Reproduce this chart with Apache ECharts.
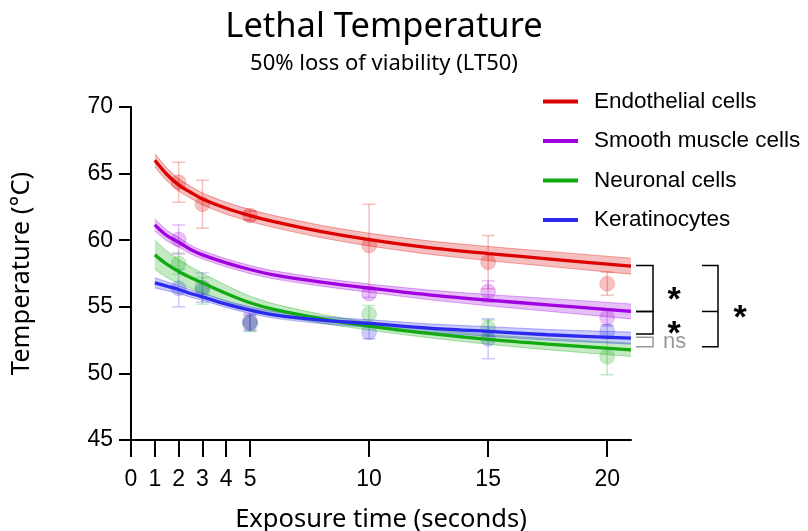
<!DOCTYPE html>
<html><head><meta charset="utf-8">
<script src="https://cdn.jsdelivr.net/npm/echarts@6/dist/echarts.min.js"></script>
<style>html,body{margin:0;padding:0;background:#fff}#c{width:808px;height:531px}</style>
</head><body><div id="c"></div>
<script>
// ---- data ----
const seriesNames = ['Endothelial cells', 'Smooth muscle cells', 'Neuronal cells', 'Keratinocytes'];
const xTicks = [0, 1, 2, 3, 4, 5, 10, 15, 20];
const yTicks = [45, 50, 55, 60, 65, 70];

// fitted curves
const fitX = [1, 1.5, 2, 2.5, 3, 4, 5, 6, 8, 10, 12.5, 15, 17.5, 21];
const fitEndo = [66.0, 64.95, 64.15, 63.6, 63.1, 62.4, 61.85, 61.4, 60.65, 60.05, 59.45, 59.0, 58.6, 58.05];
const fitSmooth = [61.15, 60.35, 59.85, 59.3, 58.9, 58.3, 57.8, 57.4, 56.85, 56.4, 55.9, 55.5, 55.15, 54.65];
const fitNeuro = [58.9, 58.2, 57.65, 57.2, 56.8, 56.0, 55.3, 54.8, 54.1, 53.55, 53.0, 52.55, 52.2, 51.77];
const fitKera = [56.8, 56.55, 56.3, 56.0, 55.75, 55.2, 54.75, 54.4, 54.0, 53.75, 53.4, 53.15, 52.9, 52.65];
// confidence band half-widths
const bandEndo = [0.5, 0.48, 0.46, 0.45, 0.45, 0.45, 0.45, 0.45, 0.46, 0.48, 0.5, 0.53, 0.56, 0.6];
const bandSmooth = [0.45, 0.4, 0.36, 0.33, 0.31, 0.3, 0.3, 0.3, 0.3, 0.31, 0.36, 0.42, 0.48, 0.56];
const bandNeuro = [1.1, 1.0, 0.9, 0.8, 0.72, 0.6, 0.5, 0.42, 0.33, 0.3, 0.32, 0.36, 0.42, 0.5];
const bandKera = [0.38, 0.34, 0.3, 0.28, 0.26, 0.25, 0.25, 0.25, 0.26, 0.28, 0.32, 0.36, 0.4, 0.45];

// measured points (mean, error)
const ptX = [2, 3, 5, 10, 15, 20];
const ptEndo = [64.35, 62.7, 61.85, 59.6, 58.35, 56.73];
const errEndo = [1.5, 1.8, 0.35, 3.1, 2.0, 0.87];
const ptSmooth = [60.05, null, 53.9, 56.0, 56.15, 54.2];
const errSmooth = [1.1, null, 0.6, 0.3, 0.8, 0.55];
const ptNeuro = [58.25, 56.2, 53.75, 54.45, 53.4, 51.25];
const errNeuro = [0.8, 1.0, 0.6, 0.65, 0.6, 1.35];
const ptKera = [56.4, 56.45, 53.8, 53.1, 52.6, 53.15];
const errKera = [1.4, 1.1, 0.6, 0.5, 1.5, 0.4];

// significance brackets (temperature values at right edge)
const brkInner1 = [58.1, 54.65];
const brkInner2 = [54.65, 52.95];
const brkNs = [52.72, 52.0];
const brkOuter = [58.1, 54.65, 52.0];

// ---- styles ----
const colors = ['#dd0000', '#a000e0', '#11aa11', '#2a2aee'];
const rgb = [[221,0,0],[160,0,224],[17,170,17],[42,42,238]];
const rgba = (i, a) => `rgba(${rgb[i][0]},${rgb[i][1]},${rgb[i][2]},${a})`;

const fits = [fitEndo, fitSmooth, fitNeuro, fitKera];
const bands = [bandEndo, bandSmooth, bandNeuro, bandKera];
const pts = [ptEndo, ptSmooth, ptNeuro, ptKera];
const errs = [errEndo, errSmooth, errNeuro, errKera];

const series = [];
// error bars + points
for (let i = 0; i < 4; i++) {
  const d = [];
  ptX.forEach((x, k) => { if (pts[i][k] != null) d.push([x, pts[i][k], errs[i][k]]); });
  series.push({
    type: 'custom', name: seriesNames[i] + ' err', z: 1, silent: true,
    data: d, encode: { x: 0, y: 1 },
    renderItem: function (params, api) {
      const x = api.value(0), y = api.value(1), e = api.value(2);
      const t = api.coord([x, y + e]), b = api.coord([x, y - e]);
      const st = { stroke: rgba(i, 0.25), lineWidth: 1.5 };
      const hw = 6.5;
      return { type: 'group', children: [
        { type: 'line', shape: { x1: t[0], y1: t[1], x2: b[0], y2: b[1] }, style: st },
        { type: 'line', shape: { x1: t[0] - hw, y1: t[1], x2: t[0] + hw, y2: t[1] }, style: st },
        { type: 'line', shape: { x1: b[0] - hw, y1: b[1], x2: b[0] + hw, y2: b[1] }, style: st }
      ]};
    }
  });
  series.push({
    type: 'scatter', name: seriesNames[i] + ' pts', z: 2, silent: true,
    data: d.map(p => [p[0], p[1]]), symbolSize: 15,
    itemStyle: { color: rgba(i, 0.3), borderColor: rgba(i, 0.2), borderWidth: 1 }
  });
}
// bands
for (let i = 0; i < 4; i++) {
  series.push({
    type: 'custom', name: seriesNames[i] + ' band', z: 3, silent: true,
    data: fitX.map((x, k) => [x, fits[i][k] - bands[i][k], fits[i][k] + bands[i][k]]),
    encode: { x: 0, y: [1, 2] },
    renderItem: function (params, api) {
      if (params.dataIndex !== 0) return null;
      const up = [], lo = [];
      fitX.forEach((x, k) => {
        up.push(api.coord([x, fits[i][k] + bands[i][k]]));
        lo.push(api.coord([x, fits[i][k] - bands[i][k]]));
      });
      const poly = up.concat(lo.slice().reverse());
      return { type: 'group', children: [
        { type: 'polygon', shape: { points: poly }, style: { fill: rgba(i, 0.25) } },
        { type: 'polyline', shape: { points: up, smooth: 0.3 }, style: { stroke: rgba(i, 0.35), lineWidth: 1, fill: null } },
        { type: 'polyline', shape: { points: lo, smooth: 0.3 }, style: { stroke: rgba(i, 0.35), lineWidth: 1, fill: null } }
      ]};
    }
  });
}
// fitted lines
for (let i = 0; i < 4; i++) {
  series.push({
    type: 'line', name: seriesNames[i], z: 4, silent: true,
    data: fitX.map((x, k) => [x, fits[i][k]]),
    smooth: 0.3, symbol: 'none',
    lineStyle: { color: colors[i], width: 3.3 },
    itemStyle: { color: colors[i] }
  });
}

const axisFont = 'Liberation Sans, Arial, sans-serif';
const chart = echarts.init(document.getElementById('c'), null, { renderer: 'canvas' });
chart.setOption({
  animation: false,
  backgroundColor: '#fff',
  title: [
    { text: 'Lethal Temperature', left: 379, textAlign: 'center', top: 5,
      textStyle: { fontFamily: 'Noto Sans', fontSize: 34.5, fontWeight: 'normal', color: '#000' } },
    { text: '50% loss of viability (LT50)', left: 379, textAlign: 'center', top: 48,
      textStyle: { fontFamily: 'Noto Sans', fontSize: 22, fontWeight: 'normal', color: '#000' } }
  ],
  legend: {
    orient: 'vertical', left: 538, top: 85, itemGap: 16.5,
    itemWidth: 35, itemHeight: 4, icon: 'rect',
    data: seriesNames,
    textStyle: { fontFamily: axisFont, fontSize: 22.5, color: '#000', padding: [0, 0, 0, 11] },
    selectedMode: false
  },
  grid: { left: 131, right: 177, top: 107, bottom: 91, containLabel: false, outerBoundsMode: 'none' },
  xAxis: {
    type: 'value', min: 0, max: 21,
    name: 'Exposure time (seconds)', nameLocation: 'middle', nameGap: 67,
    nameTextStyle: { fontFamily: 'Noto Sans', fontSize: 25.5, color: '#000' },
    axisLine: { lineStyle: { color: '#000', width: 2 } },
    axisTick: { customValues: xTicks, length: 17, lineStyle: { color: '#000', width: 2 } },
    axisLabel: { customValues: xTicks, fontFamily: axisFont, fontSize: 23, color: '#000', margin: 28 },
    splitLine: { show: false }
  },
  yAxis: {
    type: 'value', min: 45, max: 70, interval: 5,
    name: 'Temperature (°C)', nameLocation: 'middle', nameGap: 96,
    nameTextStyle: { fontFamily: 'Noto Sans', fontSize: 25.5, color: '#000' },
    axisLine: { show: true, lineStyle: { color: '#000', width: 2 } },
    axisTick: { show: true, length: 12, lineStyle: { color: '#000', width: 2 } },
    axisLabel: { fontFamily: axisFont, fontSize: 23, color: '#000', margin: 18 },
    splitLine: { show: false }
  },
  series: series
});

// significance annotations placed through the y axis scale
const py = v => chart.convertToPixel({ yAxisIndex: 0 }, v);
const blk = { stroke: '#000', lineWidth: 1.5, fill: null };
const gry = { stroke: '#999', lineWidth: 1.5, fill: null };
const bracket = (x1, x2, a, b, st) => ({ type: 'polyline', shape: { points: [[x1, py(a)], [x2, py(a)], [x2, py(b)], [x1, py(b)]] }, style: st });
const star = (x, a, b) => ({ type: 'text', x: x, y: (py(a) + py(b)) / 2 + 12,
  style: { text: '*', fontSize: 34, fontWeight: 'bold', fontFamily: axisFont, fill: '#000', align: 'center', verticalAlign: 'middle' } });
chart.setOption({
  graphic: [
    bracket(636, 653, brkInner1[0], brkInner1[1], blk),
    bracket(636, 653, brkInner2[0], brkInner2[1], blk),
    bracket(636, 653, brkNs[0], brkNs[1], gry),
    bracket(702, 718, brkOuter[0], brkOuter[2], blk),
    { type: 'line', shape: { x1: 702, y1: py(brkOuter[1]), x2: 718, y2: py(brkOuter[1]) }, style: blk },
    star(674, brkInner1[0], brkInner1[1]),
    star(674, brkInner2[0], brkInner2[1]),
    star(740, brkOuter[0], brkOuter[2]),
    { type: 'text', x: 663, y: (py(brkNs[0]) + py(brkNs[1])) / 2,
      style: { text: 'ns', fontSize: 22, fontFamily: axisFont, fill: '#999', align: 'left', verticalAlign: 'middle' } }
  ]
});
</script>
</body></html>
